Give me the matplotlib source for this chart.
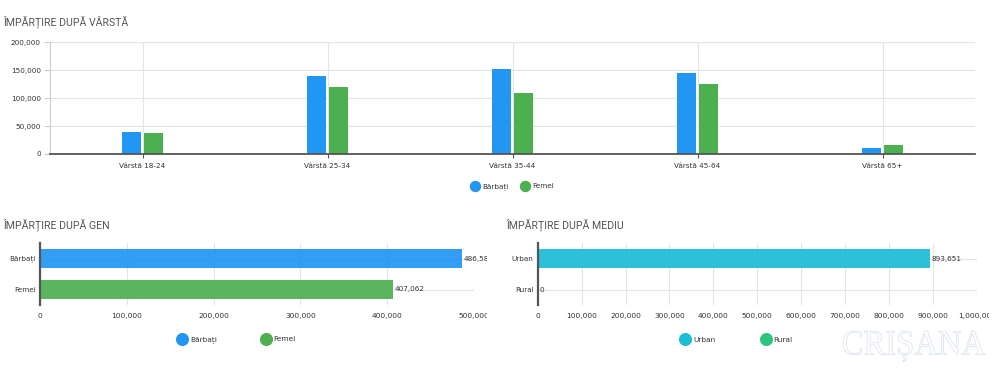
import matplotlib
matplotlib.use("Agg")
import matplotlib.pyplot as plt
import numpy as np
from matplotlib.lines import Line2D
from matplotlib.ticker import FuncFormatter
from matplotlib.transforms import Bbox, TransformedBbox, Affine2D
from matplotlib.textpath import TextPath
from matplotlib.patches import PathPatch
from matplotlib.font_manager import FontProperties

# --- date ---
age_groups = ["Vârstă 18-24", "Vârstă 25-34", "Vârstă 35-44", "Vârstă 45-64", "Vârstă 65+"]
age_men = [38500, 139500, 151500, 145500, 11600]
age_women = [37000, 119500, 109500, 125500, 15500]

gender_labels = ["Bărbați", "Femei"]
gender_values = [486589, 407062]

area_labels = ["Urban", "Rural"]
area_values = [893651, 0]

BLUE = "#2196F3"
GREEN = "#4CAF50"
CYAN = "#1ABCD6"
RURAL_GREEN = "#2DC47D"
GRID = "#e4e4e4"
AXIS_DARK = "#555555"
TEXT = "#333333"
TITLE = "#555555"

plt.rcParams["font.family"] = ["DejaVu Sans"]
thousands = FuncFormatter(lambda v, p: f"{v:,.0f}")

W, H = 1000, 374
fig = plt.figure(figsize=(W / 100, H / 100), dpi=100)
fig.patch.set_facecolor("white")


def px_axes(x0, y0, x1, y1):
    # coordonate in pixeli (sus-stanga) -> fractii din figura
    return fig.add_axes([x0 / W, 1 - y1 / H, (x1 - x0) / W, (y1 - y0) / H])


# ==========================================================
# 1. Impartire dupa varsta
# ==========================================================
ax1 = px_axes(50, 42, 975, 154)
x = np.arange(len(age_groups))
bw = 0.106
ax1.bar(x - 0.06, age_men, bw, color=BLUE, zorder=3)
ax1.bar(x + 0.06, age_women, bw, color=GREEN, zorder=3)
ax1.set_xlim(-0.5, len(age_groups) - 0.5)
ax1.set_ylim(0, 200000)
ax1.set_yticks([0, 50000, 100000, 150000, 200000])
ax1.yaxis.set_major_formatter(thousands)
ax1.set_xticks(x)
ax1.set_xticklabels(age_groups)
ax1.grid(True, color=GRID, linewidth=0.8, zorder=0)
ax1.set_axisbelow(True)
for s in ["top", "right"]:
    ax1.spines[s].set_visible(False)
ax1.spines["bottom"].set_color(AXIS_DARK)
ax1.spines["bottom"].set_linewidth(1.3)
ax1.spines["bottom"].set_zorder(4)
ax1.spines["left"].set_color("#cccccc")
ax1.spines["left"].set_linewidth(0.8)
ax1.tick_params(axis="x", length=3, color=AXIS_DARK, labelsize=5.2, labelcolor=TEXT, pad=3.5)
ax1.tick_params(axis="y", length=4, color="#cccccc", labelsize=5.2, labelcolor=TEXT, pad=2.5)

fig.text(3 / W, 1 - 22 / H, "ÎMPĂRȚIRE DUPĂ VÂRSTĂ", family="Roboto", fontsize=7.6,
         color=TITLE, ha="left", va="center")


def dot(color, size):
    return Line2D([], [], marker="o", linestyle="none", markersize=size,
                  markerfacecolor=color, markeredgecolor=color)


fig.legend([dot(BLUE, 7.2), dot(GREEN, 7.2)], ["Bărbați", "Femei"],
           loc="center", bbox_to_anchor=(512 / W, 1 - 187 / H), ncol=2,
           frameon=False, fontsize=5.2, handlelength=1.4, handletextpad=0.3,
           columnspacing=1.5, borderpad=0, labelcolor=TEXT)

# ==========================================================
# 2. Grafice orizontale (gen / mediu)
# ==========================================================


def hbar_chart(ax, labels, values, colors, xmax, step, clip_px):
    y = np.arange(len(labels))
    bars = ax.barh(y, values, height=0.61, color=colors, alpha=0.92, zorder=3)
    ax.set_ylim(len(labels) - 0.5, -0.5)
    ax.set_xlim(0, xmax)
    ax.set_yticks(y)
    ax.set_yticklabels(labels)
    ax.set_xticks(np.arange(0, xmax + 1, step))
    ax.xaxis.set_major_formatter(thousands)
    ax.grid(True, color=GRID, linewidth=0.8, zorder=0)
    ax.set_axisbelow(True)
    for s in ["top", "right", "bottom"]:
        ax.spines[s].set_visible(False)
    ax.spines["left"].set_color(AXIS_DARK)
    ax.spines["left"].set_linewidth(1.6)
    ax.spines["left"].set_zorder(4)
    ax.tick_params(axis="x", length=0, labelsize=5.4, labelcolor=TEXT, pad=6)
    ax.tick_params(axis="y", length=0, labelsize=5.2, labelcolor=TEXT, pad=3)
    labs = ax.bar_label(bars, labels=[f"{v:,.0f}" for v in values], padding=1.2,
                        fontsize=5.2, color=TEXT)
    # containerul original taie textul la dreapta
    box = TransformedBbox(Bbox.from_extents(0, 0, clip_px / 100, H / 100), fig.dpi_scale_trans)
    for t in list(labs) + ax.get_xticklabels():
        t.set_clip_on(True)
        t.set_clip_box(box)


ax2 = px_axes(40, 243, 474, 305)
hbar_chart(ax2, gender_labels, gender_values, [BLUE, GREEN], 500000, 100000, 487)
fig.text(3 / W, 1 - 225 / H, "ÎMPĂRȚIRE DUPĂ GEN", family="Roboto", fontsize=7.6,
         color=TITLE, ha="left", va="center")
fig.legend([dot(BLUE, 8.4), dot(GREEN, 8.4)], gender_labels,
           loc="center", bbox_to_anchor=(236 / W, 1 - 340 / H), ncol=2,
           frameon=False, fontsize=5.3, handlelength=1.6, handletextpad=0.3,
           columnspacing=5.8, borderpad=0, labelcolor=TEXT)

ax3 = px_axes(537.7, 243, 976.7, 305)
hbar_chart(ax3, area_labels, area_values, [CYAN, RURAL_GREEN], 1000000, 100000, 989)
fig.text(506 / W, 1 - 225 / H, "ÎMPĂRȚIRE DUPĂ MEDIU", family="Roboto", fontsize=7.6,
         color=TITLE, ha="left", va="center")
fig.legend([dot(CYAN, 8.4), dot(RURAL_GREEN, 8.4)], area_labels,
           loc="center", bbox_to_anchor=(736 / W, 1 - 340 / H), ncol=2,
           frameon=False, fontsize=5.3, handlelength=1.6, handletextpad=0.3,
           columnspacing=6.0, borderpad=0, labelcolor=TEXT)

# ==========================================================
# 3. Watermark
# ==========================================================
tp = TextPath((0, 0), "CRIȘANA", size=1, prop=FontProperties(family="Liberation Serif"))
ext = tp.get_extents()
sx = (985 - 843) / ext.width
sy = (362 - 331) / ext.height
tr = (Affine2D().translate(-ext.x0, -ext.y0).scale(sx, sy)
      .translate(843, H - 362).scale(1 / 100) + fig.dpi_scale_trans)
fig.patches.append(PathPatch(tp, transform=tr, facecolor="white",
                             edgecolor="#dde5ee", linewidth=0.6, zorder=0))

fig.savefig("out.png", dpi=100, facecolor="white")
